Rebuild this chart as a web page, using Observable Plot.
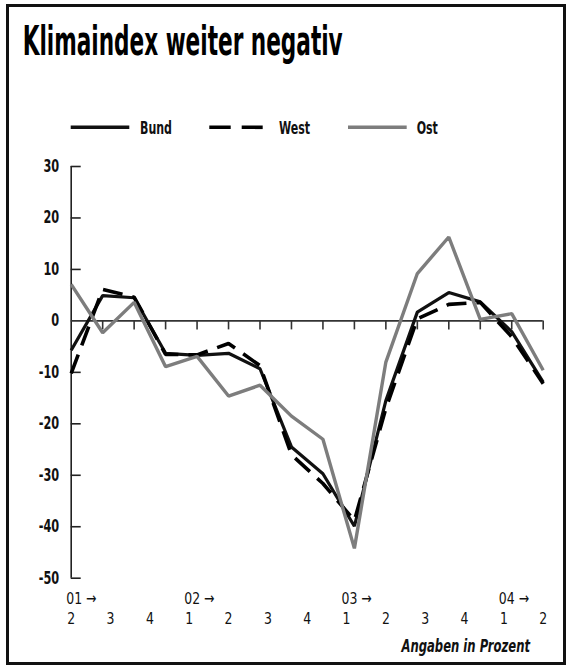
<!DOCTYPE html>
<html><head><meta charset="utf-8">
<script src="https://cdn.jsdelivr.net/npm/d3@7"></script>
<script src="https://cdn.jsdelivr.net/npm/@observablehq/plot@0.6"></script>
<style>
body{margin:0;background:#fff;width:571px;height:668px;overflow:hidden;position:relative;font-family:"DejaVu Sans Condensed","DejaVu Sans",sans-serif;font-stretch:condensed;}
#frame{position:absolute;left:6px;top:4px;width:560px;height:661px;border:3px solid #111;box-sizing:border-box;}
#chart{position:absolute;left:0;top:0;}
#deco{position:absolute;left:0;top:0;}
</style></head><body>
<div id="frame"></div>
<div id="chart"></div>
<svg id="deco" width="571" height="668"></svg>
<script>
// ---- data ----
const title = "Klimaindex weiter negativ";
const caption = "Angaben in Prozent";
const seriesNames = ["Bund", "West", "Ost"];
const periods = [0,1,2,3,4,5,6,7,8,9,10,11,12,13,14,15];
const bund = [-5.7, 4.9, 4.5, -6.3, -6.7, -6.3, -9.3, -24.5, -29.7, -39.9, -15.5, 1.7, 5.5, 3.7, -2.1, -11.9];
const west = [-10.2, 6.1, 4.6, -6.5, -6.6, -4.4, -8.7, -26.0, -31.6, -38.8, -17.0, 0.4, 3.2, 3.6, -3.1, -12.2];
const ost  = [7.1, -2.3, 3.6, -8.9, -6.9, -14.6, -12.5, -18.5, -23.0, -44.2, -8.0, 9.2, 16.3, 0.3, 1.4, -9.6];
const yTicks = [30, 20, 10, 0, -10, -20, -30, -40, -50];
const quarterLabels = ["2","3","4","1","2","3","4","1","2","3","4","1","2"];
const yearLabels = [{label:"01 →", at:0},{label:"02 →", at:3},{label:"03 →", at:7},{label:"04 →", at:11}];

// ---- styles ----
const styles = {
  Bund: {stroke:"#111", strokeWidth:3.2, dash:null},
  West: {stroke:"#000", strokeWidth:3.6, dash:"20 10"},
  Ost:  {stroke:"#7d7d7d", strokeWidth:3.4, dash:null}
};
const values = {Bund: bund, West: west, Ost: ost};
const table = seriesNames.flatMap(s => periods.map((p, i) => ({series: s, p, v: values[s][i]})));
const xMax = periods[periods.length - 1];
const labelPos = i => i * xMax / (quarterLabels.length - 1);
const FONT = '"DejaVu Sans Condensed","DejaVu Sans",sans-serif';

const plot = Plot.plot({
  width: 571, height: 668,
  marginLeft: 70.7, marginRight: 28.3, marginTop: 166, marginBottom: 90.3,
  x: {domain: [0, xMax], axis: null},
  y: {domain: [-50, 30], axis: null},
  style: {background: "transparent", fontFamily: FONT, overflow: "visible"},
  marks: [
    Plot.ruleX([0], {y1: -50, y2: 30, stroke: "#222", strokeWidth: 1.6}),
    Plot.ruleY(yTicks.filter(d => d !== 0), {x1: 0, x2: 0, insetRight: -10, stroke: "#222", strokeWidth: 1.6}),
    Plot.ruleY([0], {x1: 0, x2: xMax, stroke: "#333", strokeWidth: 1.6}),
    Plot.ruleX(periods.slice(1), {x: d => d, y1: 0, y2: 0, insetBottom: -9, stroke: "#333", strokeWidth: 1.6}),
    Plot.text(yTicks, {y: d => d, text: d => String(d), frameAnchor: "left", textAnchor: "end", dx: -12, fontWeight: "bold", fontSize: 17, fill: "#111", className: "cond-b"}),
    Plot.text(quarterLabels, {x: (d, i) => labelPos(i), text: d => d, frameAnchor: "bottom", dy: 45.6, fontSize: 16.5, fill: "#111", className: "cond-r"}),
    Plot.text(yearLabels, {x: d => labelPos(d.at), text: d => d.label, frameAnchor: "bottom", dy: 25.5, textAnchor: "start", dx: -5, fontSize: 16.5, fill: "#111", className: "cond-r"}),
    ...seriesNames.map(s => Plot.line(table.filter(d => d.series === s), {
      x: "p", y: "v", stroke: styles[s].stroke, strokeWidth: styles[s].strokeWidth,
      strokeDasharray: styles[s].dash || undefined, strokeLinejoin: "miter", strokeLinecap: "butt"
    }))
  ]
});
document.getElementById("chart").appendChild(plot);

// condense text (reference uses a narrow condensed typeface)
function condense(sel, f) {
  document.querySelectorAll(sel).forEach(t => {
    const L = t.getComputedTextLength();
    if (L > 0) { t.setAttribute("textLength", (L * f).toFixed(2)); t.setAttribute("lengthAdjust", "spacingAndGlyphs"); }
  });
}
condense("#chart .cond-b text", 0.74);
condense("#chart .cond-r text", 0.84);

// ---- title, legend, caption ----
const deco = d3.select("#deco").style("font-family", FONT);
deco.append("text").attr("x", 22.7).attr("y", 55).attr("font-size", 41).attr("font-weight", "bold")
  .attr("fill", "#000").attr("textLength", 320).attr("lengthAdjust", "spacingAndGlyphs").text(title);

const legendLayout = {Bund: {x0: 70.7, x1: 129.3, tx: 140}, West: {x0: 209.3, x1: 262.7, tx: 279}, Ost: {x0: 348, x1: 406.7, tx: 416.7}};
seriesNames.forEach(s => {
  const L = legendLayout[s], st = styles[s];
  deco.append("line").attr("x1", L.x0).attr("x2", L.x1).attr("y1", 127.3).attr("y2", 127.3)
    .attr("stroke", st.stroke).attr("stroke-width", 3.6).attr("stroke-dasharray", st.dash ? "21.4 11" : null);
  deco.append("text").attr("class", "leg").attr("x", L.tx).attr("y", 133.5).attr("font-size", 17.5).attr("font-weight", "bold").attr("fill", "#111").text(s);
});
deco.append("text").attr("class", "cap").attr("x", 530).attr("y", 652).attr("text-anchor", "end").attr("font-size", 17)
  .attr("font-weight", "bold").attr("font-style", "italic").attr("fill", "#111").text(caption);
condense("#deco .leg", 0.7);
condense("#deco .cap", 0.76);
</script>
</body></html>
